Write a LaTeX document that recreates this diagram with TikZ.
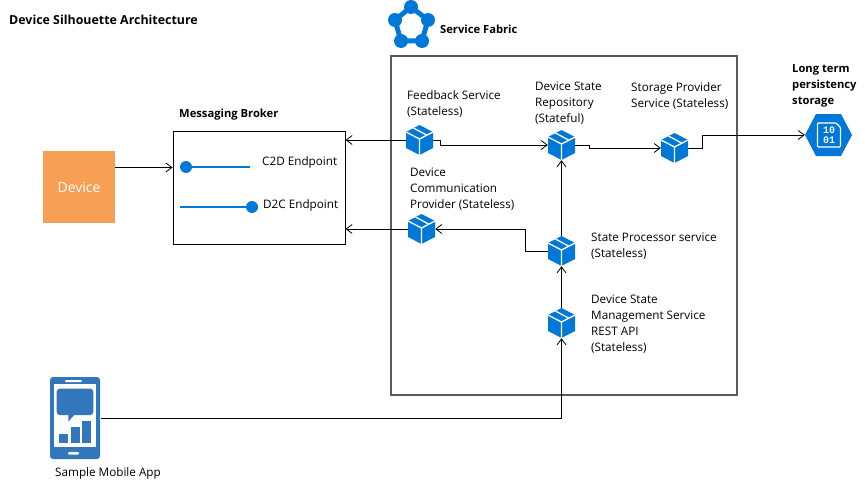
\documentclass[tikz,border=0pt]{standalone}
\usepackage{fontspec}
\setmainfont{Open Sans}
\setmonofont{Liberation Mono}
\usepackage{xcolor}
\usetikzlibrary{arrows.meta}
\definecolor{azure}{HTML}{0078D7}
\definecolor{phoneblue}{HTML}{3277BC}
\definecolor{deviceorange}{HTML}{F79F55}
\definecolor{linegray}{HTML}{595959}
\tikzset{
  txt/.style={inner sep=0pt,align=left,font=\fontsize{11.7}{16}\selectfont},
  boldtxt/.style={inner sep=0pt,align=left,font=\fontsize{11.2}{16}\selectfont\bfseries},
  conn/.style={-{Straight Barb[length=6pt,width=9pt]},line width=0.8pt},
  cubenode/.style={inner sep=0pt,minimum width=27pt,minimum height=30pt,
    path picture={
      \begin{scope}[shift={(path picture bounding box.center)}]
      \fill[azure] (0,-15)--(13.5,-8)--(13.5,8)--(0,15)--(-13.5,8)--(-13.5,-8)--cycle;
      \draw[white,line width=1.3pt] (-13.5,-8)--(0,-1)--(13.5,-8) (0,-1)--(0,15);
      \draw[white,line width=1.3pt] (-6,-12)--(7,-5);
      \end{scope}}},
}
\begin{document}
\begin{tikzpicture}[x=1pt,y=-1pt]
 \useasboundingbox (0,0) rectangle (865,487);

 \node at (9,19.5) [boldtxt,anchor=west,font=\fontsize{12.4}{16}\selectfont\bfseries] (title) {Device Silhouette Architecture};

 % service fabric
 \draw[azure,line width=5pt] (411,7)--(428,20)--(422,41)--(401,41)--(395,20)--cycle;
 \foreach \cx/\cy in {411/7,428/20,422/41,401/41,395/20}
   \fill[azure] (\cx,\cy) circle (7);
 \node at (440,29) [boldtxt,anchor=west] (fabriclabel) {Service Fabric};
 \node at (564,225.5) [draw=linegray,line width=1.4pt,minimum width=346pt,minimum height=339pt,inner sep=0pt] (fabric) {};

 % device and broker
 \node at (79,187) [fill=deviceorange,minimum width=72pt,minimum height=72pt,inner sep=0pt,text=white,font=\fontsize{14}{16}\selectfont] (device) {Device};
 \node at (259,187.5) [draw,line width=1pt,minimum width=172pt,minimum height=113pt,inner sep=0pt] (broker) {};
 \node at (179,114.5) [boldtxt,anchor=west] (brokerlabel) {Messaging Broker};
 \node at (186,167) [circle,fill=azure,minimum size=12pt,inner sep=0pt] (c2d) {};
 \coordinate (c2dend) at (250,167);
 \draw[azure,line width=2.5pt] (c2d)--(c2dend);
 \node at (262,162.5) [txt,anchor=west] (c2dlabel) {C2D Endpoint};
 \node at (252,207) [circle,fill=azure,minimum size=12pt,inner sep=0pt] (d2c) {};
 \coordinate (d2cstart) at (180,207);
 \draw[azure,line width=2.5pt] (d2cstart)--(d2c);
 \node at (263,205.5) [txt,anchor=west] (d2clabel) {D2C Endpoint};

 % services
 \node at (419.5,140) [cubenode] (feedback) {};
 \node at (561.5,145) [cubenode] (repo) {};
 \node at (674.5,148) [cubenode] (storage) {};
 \node at (421.5,229) [cubenode] (comm) {};
 \node at (561.5,251) [cubenode] (processor) {};
 \node at (561.5,323) [cubenode] (mgmt) {};

 \node at (407,103.5) [txt,anchor=west] (feedbacklabel) {Feedback Service\\(Stateless)};
 \node at (535,103.5) [txt,anchor=west] (repolabel) {Device State\\Repository\\(Stateful)};
 \node at (631,95.5) [txt,anchor=west] (storagelabel) {Storage Provider\\Service (Stateless)};
 \node at (410,189.5) [txt,anchor=west] (commlabel) {Device\\Communication\\Provider (Stateless)};
 \node at (591,246.5) [txt,anchor=west] (processorlabel) {State Processor service\\(Stateless)};
 \node at (591,324.5) [txt,anchor=west] (mgmtlabel) {Device State\\Management Service\\REST API\\(Stateless)};

 % long term storage
 \fill[azure] (805,135)--(816,114)--(841,114)--(852,135)--(841,156)--(816,156)--cycle;
 \draw[white,line width=1.2pt,rounded corners=1pt] (817.5,123)--(836,123)--(840.5,127.5)--(840.5,147)--(817.5,147)--cycle;
 \node at (829,130) [inner sep=0pt,text=white,font=\fontsize{10}{10}\ttfamily\bfseries] (bits1) {10};
 \node at (829,140.5) [inner sep=0pt,text=white,font=\fontsize{10}{10}\ttfamily\bfseries] (bits2) {01};
 \node at (828.5,135) [minimum width=47pt,minimum height=42pt,inner sep=0pt] (hex) {};
 \node at (792,85.5) [boldtxt,anchor=west] (hexlabel) {Long term\\persistency\\storage};

 % phone
 \fill[phoneblue,rounded corners=3pt] (50,377) rectangle (100,459);
 \fill[white] (54,384) rectangle (96,447);
 \fill[white,rounded corners=1pt] (65,380) rectangle (82,382);
 \fill[white,rounded corners=1pt] (68,452) rectangle (79,454.5);
 \fill[phoneblue,rounded corners=3pt] (56.7,388.7) rectangle (93.3,415);
 \fill[phoneblue] (68.3,414)--(68.3,421.7)--(75,414)--cycle;
 \fill[phoneblue] (59.3,434.3) rectangle (68.3,443.3);
 \fill[phoneblue] (70.7,427.3) rectangle (79.7,443.3);
 \fill[phoneblue] (82,420.7) rectangle (91,443.3);
 \node at (75,418) [minimum width=52pt,minimum height=82pt,inner sep=0pt] (phone) {};
 \node at (55,473) [txt,anchor=west] (phonelabel) {Sample Mobile App};

 % connectors
 \coordinate (devout) at (115,167.5);
 \draw[conn] (devout)--(devout -| broker.west);
 \draw[conn] (feedback.west)--(feedback.west -| broker.east);
 \draw[conn] (comm.west)--(comm.west -| broker.east);
 \draw[conn] (feedback.east)--++(7,0) |- (repo.west);
 \draw[conn] (repo.east)--++(14,0) |- (storage.west);
 \draw[conn] (storage.east)--++(14,0) |- (hex.west);
 \draw[conn] (processor.west)--++(-22,0) |- (comm.east);
 \draw[conn] (processor.north)--(repo.south);
 \draw[conn] (mgmt.north)--(processor.south);
 \draw[conn] (phone.east)-|(mgmt.south);
\end{tikzpicture}
\end{document}
